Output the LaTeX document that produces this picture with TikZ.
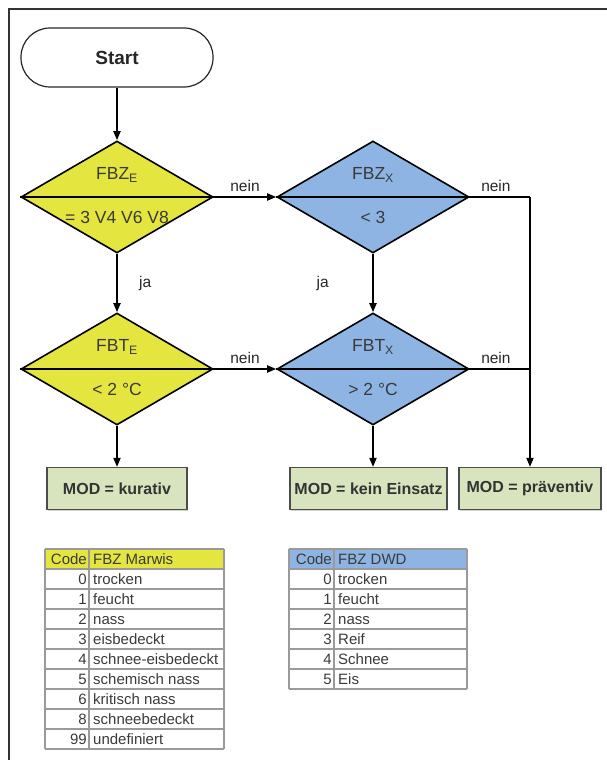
\documentclass[tikz,border=0pt]{standalone}
\usepackage{fontspec}
\setmainfont{Liberation Sans}
\usetikzlibrary{shapes.geometric,arrows.meta,shadows}
\definecolor{decyellow}{HTML}{E5E540}
\definecolor{decblue}{HTML}{8DB4E2}
\definecolor{resgreen}{HTML}{D7E4BD}
\definecolor{txtgray}{HTML}{3A3A3A}
\definecolor{gridgray}{HTML}{9A9A9A}
\begin{document}
\begin{tikzpicture}[x=1pt,y=-1pt,
  every node/.style={font=\fontsize{15}{18}\selectfont, text=txtgray},
  terminal/.style={draw=black!85, line width=1.2pt, rounded corners=29pt,
    minimum width=192pt, minimum height=59pt,
    font=\bfseries\fontsize{19}{22}\selectfont, text=black!85},
  decision/.style={diamond, draw=black, line width=1.6pt,
    minimum width=192pt, minimum height=112pt, inner sep=0pt},
  dtext/.style={font=\fontsize{17.5}{20}\selectfont, text=txtgray},
  result/.style={draw=black!70, line width=1.2pt, fill=resgreen,
    minimum width=140pt, minimum height=42pt,
    drop shadow={shadow xshift=1.2pt, shadow yshift=-1.2pt, opacity=0.35},
    font=\bfseries\fontsize{16}{19}\selectfont, text=black!80},
  flow/.style={line width=1.8pt, -{Triangle[length=9pt,width=7pt]}},
  link/.style={line width=1.8pt},
  lbl/.style={font=\fontsize{15.5}{18}\selectfont, text=black!85},
  grid/.style={draw=gridgray, line width=1.1pt},
  cell/.style={font=\fontsize{15}{18}\selectfont, text=txtgray, inner sep=0pt},
]
\useasboundingbox (0,0) rectangle (607,760);

% page frame
\draw[line width=1.2pt, black!80] (9,760) -- (9,9) -- (607,9);

% start
\node[terminal] (start) at (117,57.5) {Start};

% decisions
\node[decision, fill=decyellow] (d1) at (117,197) {};
\node[decision, fill=decblue]   (d2) at (373,197) {};
\node[decision, fill=decyellow] (d3) at (117,369) {};
\node[decision, fill=decblue]   (d4) at (373,369) {};
\draw[line width=1.6pt] (d1.west) -- (d1.east);
\draw[line width=2.4pt] (d2.west) -- (d2.east);
\draw[line width=1.6pt] (d3.west) -- (d3.east);
\draw[line width=2.4pt] (d4.west) -- (d4.east);

\node[dtext] (d1a) at ([yshift=22pt]d1.center) {FBZ\textsubscript{E}};
\node[dtext] (d1b) at ([yshift=-20pt]d1.center) {= 3 V4 V6 V8};
\node[dtext] (d2a) at ([yshift=22pt]d2.center) {FBZ\textsubscript{X}};
\node[dtext] (d2b) at ([yshift=-20pt]d2.center) {< 3};
\node[dtext] (d3a) at ([yshift=22pt]d3.center) {FBT\textsubscript{E}};
\node[dtext] (d3b) at ([yshift=-20pt]d3.center) {< 2 °C};
\node[dtext] (d4a) at ([yshift=22pt]d4.center) {FBT\textsubscript{X}};
\node[dtext] (d4b) at ([yshift=-20pt]d4.center) {> 2 °C};

% results
\node[result] (r1) at (117,488.5) {MOD = kurativ};
\node[result, minimum width=157pt] (r2) at (368.5,488.5) {MOD = kein Einsatz};
\node[result, minimum width=142pt] (r3) at (530,488.5) {MOD = präventiv};

% connectors
\coordinate (j1) at (530,197);
\coordinate (j2) at (530,369);
\draw[flow] (start.south) -- (d1.north);
\draw[flow] (d1.east) -- node[lbl, above=1pt] (n1) {nein} (d2.west);
\draw[flow] (d3.east) -- node[lbl, above=1pt] (n3) {nein} (d4.west);
\draw[flow] (d1.south) -- node[lbl, right=18pt] (ja1) {ja} (d3.north);
\draw[flow] (d2.south) -- node[lbl, left=40pt] (ja2) {ja} (d4.north);
\draw[flow] (d3.south) -- (r1.north);
\draw[flow] (d4.south) -- (d4.south |- r2.north);
\draw[link] (d2.east) -- node[lbl, above=1pt, xshift=-4pt] (n2) {nein} (j1);
\draw[link] (d4.east) -- node[lbl, above=1pt, xshift=-4pt] (n4) {nein} (j2);
\draw[flow] (j1) -- (r3.north);

% table: FBZ Marwis
\fill[decyellow] (45,549) rectangle (224,569);
\foreach \k in {0,...,10} \draw[grid] (45,{549+20*\k}) -- (224,{549+20*\k});
\draw[grid] (45,549) -- (45,749);
\draw[grid] (89,549) -- (89,749);
\draw[grid] (224,549) -- (224,749);
\foreach \c/\t [count=\i] in {Code/FBZ Marwis, 0/trocken, 1/feucht, 2/nass,
    3/eisbedeckt, 4/schnee-eisbedeckt, 5/schemisch nass, 6/kritisch nass,
    8/schneebedeckt, 99/undefiniert} {
  \node[cell, anchor=base east] (ma\i) at (87, {549+20*\i-5}) {\c};
  \node[cell, anchor=base west] (mb\i) at (93, {549+20*\i-5}) {\t};
}

% table: FBZ DWD
\fill[decblue] (289,549) rectangle (467,569);
\foreach \k in {0,...,7} \draw[grid] (289,{549+20*\k}) -- (467,{549+20*\k});
\draw[grid] (289,549) -- (289,689);
\draw[grid] (334,549) -- (334,689);
\draw[grid] (467,549) -- (467,689);
\foreach \c/\t [count=\i] in {Code/FBZ DWD, 0/trocken, 1/feucht, 2/nass,
    3/Reif, 4/Schnee, 5/Eis} {
  \node[cell, anchor=base east] (da\i) at (332, {549+20*\i-5}) {\c};
  \node[cell, anchor=base west] (db\i) at (338, {549+20*\i-5}) {\t};
}
\end{tikzpicture}
\end{document}
